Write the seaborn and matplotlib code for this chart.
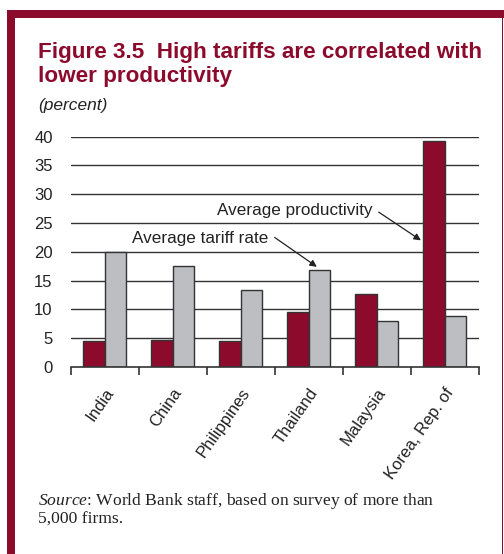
import matplotlib
matplotlib.use("Agg")
import matplotlib.pyplot as plt
from matplotlib.patches import Rectangle
import seaborn as sns
import pandas as pd

countries = ["India", "China", "Philippines", "Thailand", "Malaysia", "Korea, Rep. of"]
productivity = [4.6, 4.7, 4.6, 9.6, 12.7, 39.3]
tariff = [20.0, 17.6, 13.3, 16.9, 8.0, 8.9]
series = ["Average productivity", "Average tariff rate"]
yticks = [0, 5, 10, 15, 20, 25, 30, 35, 40]

RED = "#8C0A2C"
GRAY = "#BDBEC2"

df = pd.DataFrame({
    "country": countries * 2,
    "value": productivity + tariff,
    "series": [series[0]] * len(countries) + [series[1]] * len(countries),
})

sns.set_style("white")
plt.rcParams["font.family"] = ["Liberation Sans", "DejaVu Sans"]
plt.rcParams["mathtext.fontset"] = "custom"
plt.rcParams["mathtext.it"] = "Liberation Serif:italic"
plt.rcParams["mathtext.rm"] = "Liberation Serif"

W, H = 504, 554
fig = plt.figure(figsize=(W / 100, H / 100), dpi=100)

def fx(px):
    return px / W

def fy(py):
    return 1 - py / H

ax = fig.add_axes([fx(70.7), fy(367), fx(478.7) - fx(70.7), fy(136.7) - fy(367)])

sns.barplot(data=df, x="country", y="value", hue="series", order=countries,
            hue_order=series, palette=[RED, GRAY], width=0.63, gap=0,
            edgecolor="#333333", linewidth=1.0, saturation=1, ax=ax,
            legend=False, zorder=3)

ax.set_xlim(-0.5, len(countries) - 0.5)
ax.set_ylim(0, 40)
ax.set_yticks(yticks)
ax.set_yticklabels([str(v) for v in yticks], fontsize=12, color="#222222")
for v in yticks[1:]:
    ax.axhline(v, color="#333333", lw=1.0, zorder=1)

for s in ["top", "right", "left"]:
    ax.spines[s].set_visible(False)
ax.spines["bottom"].set_color("#333333")
ax.spines["bottom"].set_linewidth(1.2)
ax.spines["bottom"].set_zorder(4)

ax.set_xticks(range(len(countries)))
ax.set_xticklabels(countries, rotation=55, ha="right", va="top",
                   rotation_mode="anchor", fontsize=12, color="#222222")
ax.set_xticks([i - 0.5 for i in range(len(countries) + 1)], minor=True)
ax.tick_params(axis="x", which="major", length=0, pad=13)
ax.tick_params(axis="x", which="minor", length=6, width=1.2, color="#333333",
               direction="out", bottom=True)
ax.tick_params(axis="y", length=0, pad=13)
ax.set_xlabel("")
ax.set_ylabel("")
ax.grid(False)

arrow = dict(arrowstyle="-|>", color="#222222", lw=0.9,
             mutation_scale=10, shrinkA=0, shrinkB=0)
ax.annotate("", xy=(4.65, 22.0), xytext=(4.03, 26.9), arrowprops=arrow, zorder=5)
ax.text(2.80, 27.2, series[0], ha="center", va="center", fontsize=12.3,
        color="#222222", zorder=5,
        bbox=dict(facecolor="white", edgecolor="none", pad=1))
ax.annotate("", xy=(3.12, 17.4), xytext=(2.50, 22.5), arrowprops=arrow, zorder=5)
ax.text(1.41, 22.4, series[1], ha="center", va="center", fontsize=12.3,
        color="#222222", zorder=5,
        bbox=dict(facecolor="white", edgecolor="none", pad=1))

# frame
fig.patches.append(Rectangle((fx(7), fy(18)), 1 - fx(7), fy(10) - fy(18),
                             transform=fig.transFigure, facecolor=RED,
                             edgecolor="none", zorder=0))
fig.patches.append(Rectangle((fx(7), 0), fx(15) - fx(7), fy(10),
                             transform=fig.transFigure, facecolor=RED,
                             edgecolor="none", zorder=0))
fig.patches.append(Rectangle((fx(501.8), 0), fx(1.6), fy(18),
                             transform=fig.transFigure, facecolor=RED,
                             edgecolor="none", zorder=0))

fig.text(fx(38), fy(58), "Figure 3.5  High tariffs are correlated with",
         fontsize=16.2, fontweight="bold", color=RED, va="baseline", ha="left")
fig.text(fx(38), fy(82), "lower productivity",
         fontsize=16.2, fontweight="bold", color=RED, va="baseline", ha="left")
fig.text(fx(38), fy(110), "(percent)", fontsize=12.5, fontstyle="italic",
         color="#222222", va="baseline", ha="left")

fig.text(fx(38), fy(505), r"$\mathit{Source}$: World Bank staff, based on survey of more than",
         fontsize=12.6, family="Liberation Serif", color="#222222",
         va="baseline", ha="left")
fig.text(fx(38), fy(524), "5,000 firms.", fontsize=12.6, family="Liberation Serif",
         color="#222222", va="baseline", ha="left")

fig.savefig("out.png", dpi=100)
